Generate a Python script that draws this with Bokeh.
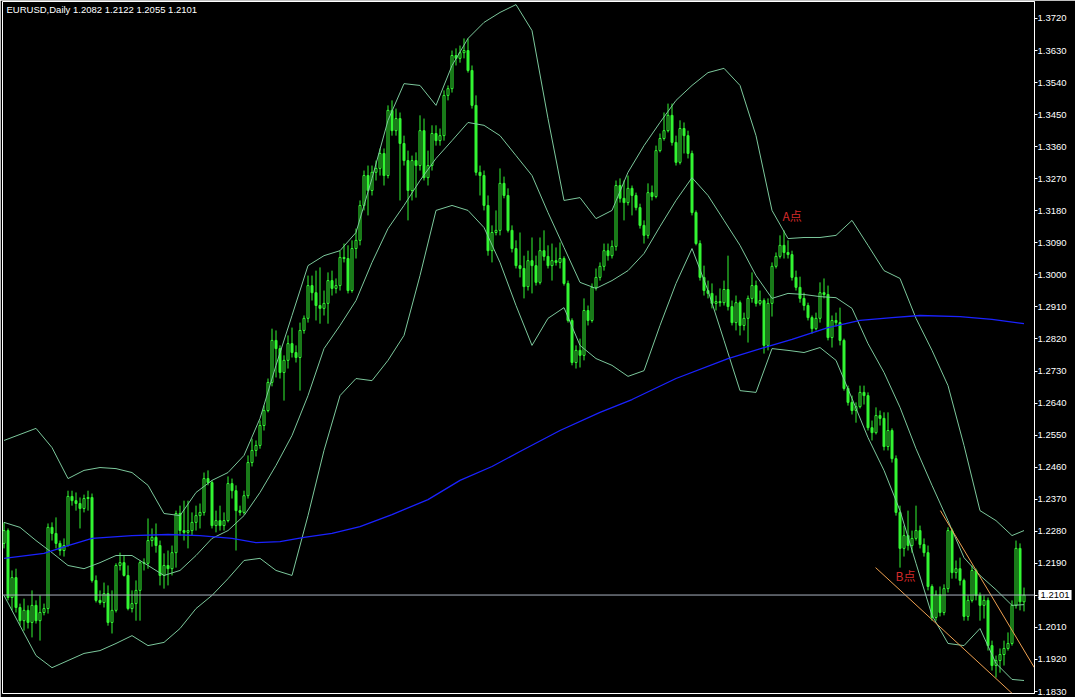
from bokeh.plotting import figure
from bokeh.models import (Range1d, FixedTicker, NumeralTickFormatter, Label, Span,
                          ColumnDataSource, LinearAxis)
from bokeh.embed import file_html
from bokeh.resources import INLINE

SYMBOL = "EURUSD"
PERIOD = "Daily"
PIP = 0.0001

# Daily EURUSD candles, prices in pips (1.2101 -> 12101)
opens = [
    12246, 12282, 12094, 12150, 12066, 12029, 12058, 12024, 12072, 12029,
    12052, 12063, 12291, 12274, 12246, 12226, 12240, 12378, 12366, 12358,
    12344, 12372, 12375, 12142, 12086, 12080, 12105, 12024, 12058, 12184,
    12192, 12156, 12063, 12077, 12114, 12192, 12190, 12254, 12263, 12240,
    12156, 12184, 12175, 12220, 12330, 12282, 12277, 12282, 12305, 12324,
    12333, 12428, 12417, 12296, 12310, 12296, 12310, 12414, 12394, 12338,
    12333, 12380, 12473, 12507, 12521, 12577, 12619, 12698, 12816, 12793,
    12726, 12760, 12807, 12782, 12768, 12844, 12878, 12970, 12950, 12914,
    12906, 12920, 12984, 12962, 12970, 13049, 13046, 12956, 13074, 13097,
    13195, 13279, 13237, 13288, 13299, 13341, 13279, 13462, 13405, 13439,
    13369, 13321, 13237, 13321, 13307, 13405, 13273, 13307, 13397, 13377,
    13391, 13504, 13523, 13616, 13608, 13624, 13630, 13574, 13476, 13288,
    13279, 13195, 13068, 13119, 13125, 13257, 13223, 13125, 13074, 13026,
    13018, 12967, 13040, 13026, 12979, 13068, 13052, 13026, 13040, 13035,
    13046, 12976, 12872, 12754, 12788, 12774, 12900, 12872, 12965, 12993,
    13024, 13068, 13054, 13080, 13251, 13215, 13203, 13243, 13223, 13189,
    13139, 13111, 13231, 13220, 13349, 13383, 13405, 13448, 13372, 13316,
    13411, 13391, 13341, 13175, 13088, 12993, 12956, 12948, 12920, 12925,
    12922, 12959, 12911, 12866, 12922, 12858, 12878, 12934, 12970, 12920,
    12928, 12802, 12920, 13024, 13052, 13083, 13063, 13057, 12993, 12965,
    12934, 12914, 12880, 12849, 12878, 12950, 12945, 12824, 12872, 12866,
    12816, 12681, 12642, 12619, 12630, 12670, 12661, 12571, 12557, 12605,
    12597, 12518, 12563, 12484, 12333, 12232, 12268, 12240, 12260, 12282,
    12243, 12220, 12125, 12038, 12102, 12052, 12119, 12282, 12164, 12175,
    12142, 12041, 12086, 12170, 12100, 12072, 12086, 11959, 11903, 11917,
    11934, 11951, 11965, 12072, 12232, 12082,
]
highs = [
    12305, 12288, 12170, 12175, 12077, 12091, 12072, 12114, 12086, 12100,
    12077, 12302, 12305, 12319, 12254, 12260, 12394, 12394, 12389, 12375,
    12383, 12394, 12386, 12156, 12114, 12136, 12128, 12114, 12190, 12220,
    12212, 12184, 12114, 12142, 12198, 12204, 12316, 12288, 12302, 12254,
    12218, 12226, 12240, 12338, 12352, 12366, 12366, 12333, 12352, 12358,
    12445, 12451, 12423, 12338, 12352, 12333, 12434, 12428, 12409, 12352,
    12394, 12493, 12540, 12535, 12591, 12633, 12709, 12849, 12844, 12802,
    12774, 12830, 12852, 12802, 12866, 12886, 12998, 12998, 13012, 13021,
    12956, 13007, 13012, 12990, 13068, 13088, 13083, 13097, 13130, 13209,
    13293, 13307, 13307, 13321, 13355, 13355, 13476, 13490, 13467, 13456,
    13391, 13349, 13335, 13344, 13448, 13439, 13349, 13420, 13420, 13411,
    13518, 13532, 13630, 13636, 13644, 13664, 13664, 13588, 13504, 13307,
    13293, 13223, 13139, 13181, 13299, 13276, 13243, 13139, 13097, 13119,
    13054, 13068, 13105, 13054, 13105, 13125, 13083, 13088, 13077, 13091,
    13052, 12984, 12878, 12802, 12821, 12934, 12914, 12976, 13018, 13035,
    13088, 13088, 13097, 13265, 13271, 13265, 13279, 13251, 13231, 13200,
    13153, 13257, 13251, 13363, 13397, 13456, 13481, 13481, 13391, 13434,
    13428, 13405, 13349, 13181, 13097, 13026, 12984, 12976, 12942, 12962,
    12984, 13054, 12928, 12942, 12928, 12894, 12942, 13007, 12984, 12956,
    12934, 12934, 13035, 13063, 13111, 13125, 13097, 13068, 13012, 12995,
    12950, 12922, 12886, 12894, 12979, 12990, 12970, 12886, 12894, 12908,
    12821, 12689, 12661, 12642, 12689, 12689, 12670, 12591, 12628, 12619,
    12614, 12614, 12569, 12493, 12352, 12296, 12338, 12282, 12352, 12296,
    12260, 12240, 12131, 12114, 12125, 12131, 12291, 12288, 12198, 12206,
    12147, 12100, 12184, 12175, 12108, 12100, 12094, 11973, 11931, 11951,
    11973, 11996, 12086, 12254, 12246, 12122,
]
lows = [
    12232, 12086, 12058, 12052, 12015, 12001, 12007, 11982, 12021, 11973,
    12044, 12049, 12254, 12232, 12212, 12209, 12237, 12352, 12338, 12288,
    12333, 12338, 12136, 12080, 12074, 12066, 12015, 11993, 12052, 12170,
    12153, 12058, 12052, 12029, 12029, 12170, 12175, 12237, 12220, 12128,
    12119, 12128, 12156, 12178, 12268, 12254, 12232, 12268, 12282, 12288,
    12324, 12409, 12288, 12277, 12282, 12282, 12305, 12372, 12226, 12324,
    12327, 12372, 12462, 12490, 12512, 12563, 12614, 12687, 12712, 12709,
    12647, 12737, 12768, 12754, 12675, 12835, 12866, 12928, 12872, 12863,
    12886, 12863, 12942, 12948, 12956, 13035, 12948, 12950, 13046, 13083,
    13181, 13167, 13223, 13265, 13279, 13251, 13271, 13391, 13391, 13209,
    13307, 13153, 13209, 13217, 13293, 13265, 13251, 13293, 13363, 13363,
    13377, 13490, 13512, 13588, 13596, 13608, 13568, 13467, 13279, 13223,
    13181, 13054, 13035, 13111, 13111, 13215, 13119, 13063, 13018, 12993,
    12934, 12956, 12948, 12970, 12973, 13040, 13018, 12984, 13026, 13018,
    12970, 12866, 12746, 12737, 12740, 12760, 12858, 12866, 12956, 12984,
    13012, 13040, 13046, 13068, 13203, 13153, 13195, 13167, 13181, 13130,
    13088, 13102, 13209, 13215, 13344, 13377, 13400, 13363, 13307, 13310,
    13341, 13327, 13167, 13083, 12984, 12942, 12934, 12906, 12900, 12911,
    12914, 12900, 12858, 12844, 12830, 12844, 12810, 12922, 12911, 12914,
    12779, 12788, 12883, 13018, 13046, 13046, 13046, 12984, 12956, 12922,
    12900, 12872, 12835, 12844, 12866, 12934, 12816, 12796, 12855, 12802,
    12675, 12633, 12608, 12585, 12625, 12636, 12563, 12535, 12552, 12577,
    12507, 12507, 12473, 12324, 12178, 12209, 12226, 12220, 12254, 12232,
    12209, 12114, 12029, 12029, 12041, 12044, 12108, 12147, 12147, 12128,
    12029, 12029, 12080, 12086, 12029, 12035, 11945, 11889, 11869, 11883,
    11903, 11945, 11959, 12063, 12058, 12055,
]
closes = [
    12282, 12094, 12150, 12066, 12029, 12058, 12024, 12072, 12029, 12052,
    12063, 12291, 12274, 12246, 12226, 12240, 12378, 12366, 12358, 12344,
    12372, 12375, 12142, 12086, 12080, 12105, 12024, 12058, 12184, 12192,
    12156, 12063, 12077, 12114, 12192, 12190, 12254, 12263, 12240, 12156,
    12184, 12175, 12220, 12330, 12282, 12277, 12282, 12305, 12324, 12333,
    12428, 12417, 12296, 12310, 12296, 12310, 12414, 12394, 12338, 12333,
    12380, 12473, 12507, 12521, 12577, 12619, 12698, 12816, 12793, 12726,
    12760, 12807, 12782, 12768, 12844, 12878, 12970, 12950, 12914, 12906,
    12920, 12984, 12962, 12970, 13049, 13046, 12956, 13074, 13097, 13195,
    13279, 13237, 13288, 13299, 13341, 13279, 13462, 13405, 13439, 13369,
    13321, 13237, 13321, 13307, 13405, 13273, 13307, 13397, 13377, 13391,
    13504, 13523, 13616, 13608, 13624, 13630, 13574, 13476, 13288, 13279,
    13195, 13068, 13119, 13125, 13257, 13223, 13125, 13074, 13026, 13018,
    12967, 13040, 13026, 12979, 13068, 13052, 13026, 13040, 13035, 13046,
    12976, 12872, 12754, 12788, 12774, 12900, 12872, 12965, 12993, 13024,
    13068, 13054, 13080, 13251, 13215, 13203, 13243, 13223, 13189, 13139,
    13111, 13231, 13220, 13349, 13383, 13405, 13448, 13372, 13316, 13411,
    13391, 13341, 13175, 13088, 12993, 12956, 12948, 12920, 12925, 12922,
    12959, 12911, 12866, 12922, 12858, 12878, 12934, 12970, 12920, 12928,
    12802, 12920, 13024, 13052, 13083, 13063, 13057, 12993, 12965, 12934,
    12914, 12880, 12849, 12878, 12950, 12945, 12824, 12872, 12866, 12816,
    12681, 12642, 12619, 12630, 12670, 12661, 12571, 12557, 12605, 12597,
    12518, 12563, 12484, 12333, 12232, 12268, 12240, 12260, 12282, 12243,
    12220, 12125, 12038, 12102, 12052, 12119, 12282, 12164, 12175, 12142,
    12041, 12086, 12170, 12100, 12072, 12086, 11959, 11903, 11917, 11934,
    11951, 11965, 12072, 12232, 12082, 12101,
]

# Bollinger Bands (20, 2), sampled every 4th bar
band_idx = list(range(0, 256, 4)) + [255]
bb_upper = [
    12535, 12552, 12569, 12515, 12428, 12451, 12459, 12456, 12445, 12409,
    12330, 12324, 12389, 12423, 12445, 12493, 12597, 12746, 12886, 13026,
    13054, 13068, 13119, 13271, 13434, 13537, 13532, 13476, 13588, 13664,
    13709, 13737, 13759, 13686, 13439, 13209, 13217, 13158, 13181, 13288,
    13363, 13428, 13490, 13532, 13568, 13580, 13532, 13391, 13181, 13102,
    13105, 13105, 13111, 13153, 13083, 13012, 12990, 12878, 12788, 12689,
    12521, 12338, 12310, 12268, 12282,
]
bb_middle = [
    12305, 12291, 12254, 12220, 12184, 12175, 12192, 12212, 12212, 12184,
    12156, 12170, 12212, 12260, 12282, 12324, 12389, 12465, 12549, 12661,
    12793, 12858, 12928, 13035, 13130, 13195, 13265, 13327, 13377, 13428,
    13420, 13391, 13335, 13279, 13175, 13077, 12979, 12962, 12984, 13012,
    13060, 13136, 13209, 13273, 13223, 13153, 13083, 12998, 12934, 12948,
    12945, 12939, 12936, 12906, 12807, 12726, 12628, 12512, 12409, 12310,
    12206, 12156, 12116, 12072, 12074,
]
bb_lower = [
    12100, 12015, 11931, 11897, 11917, 11937, 11945, 11965, 11987, 11959,
    11968, 12007, 12063, 12100, 12147, 12198, 12204, 12170, 12156, 12324,
    12507, 12661, 12709, 12703, 12760, 12830, 12998, 13181, 13195, 13181,
    13133, 13035, 12914, 12802, 12878, 12908, 12802, 12765, 12746, 12715,
    12731, 12858, 12976, 13074, 12956, 12816, 12675, 12670, 12793, 12788,
    12782, 12796, 12760, 12653, 12543, 12451, 12338, 12190, 12044, 11965,
    11959, 12007, 11909, 11864, 11861,
]

# long moving average
ma_idx = [0, 10, 16, 22, 32, 41, 49, 57, 63, 69, 75, 82, 89, 97, 106, 114,
          122, 129, 139, 149, 157, 168, 181, 190, 197, 206, 214, 222, 229,
          239, 247, 255]
ma_val = [12204, 12218, 12240, 12260, 12268, 12271, 12268, 12260, 12248,
          12251, 12263, 12274, 12293, 12327, 12369, 12423, 12462, 12504,
          12563, 12614, 12650, 12709, 12765, 12796, 12819, 12852, 12872,
          12880, 12886, 12883, 12875, 12863]

# hand-drawn trend channel: (bar, price in pips) end points
trend_upper = [(234.1, 12338), (257.6, 11897)]
trend_lower = [(217.9, 12178), (252.1, 11824)]

# chart notes: (text, bar, price in pips)
notes = [("A点", 194.6, 13167), ("B点", 222.9, 12156)]

y_ticks = [1.1830, 1.1920, 1.2010, 1.2100, 1.2190, 1.2280, 1.2370, 1.2460,
           1.2550, 1.2640, 1.2730, 1.2820, 1.2910, 1.3000, 1.3090, 1.3180,
           1.3270, 1.3360, 1.3450, 1.3540, 1.3630, 1.3720]

n = len(closes)

LIME = "#33f533"
BAND = "#7cc89c"
BLUE = "#1a22ff"
ORANGE = "#eea050"
NOTE_RED = "#d42a2a"
BID_GREY = "#a9b3bf"
FONT = "Liberation Sans"
SCALE_FONT_SIZE = "9.5px"

o = [v * PIP for v in opens]
h = [v * PIP for v in highs]
l = [v * PIP for v in lows]
c = [v * PIP for v in closes]
bars = list(range(n))
src = ColumnDataSource(dict(
    x=bars, high=h, low=l,
    top=[max(a, b) for a, b in zip(o, c)],
    bottom=[min(a, b) for a, b in zip(o, c)],
    fill=["#000000" if cc > oo else LIME for oo, cc in zip(o, c)],
))

# 4 px per bar; frame spans canvas x 2..1034, y 1..693
BAR_PX = 4
FRAME_W = 1032
x_start = -0.375
x_end = x_start + FRAME_W / BAR_PX
y_bottom, y_top = 1.18245, 1.37677

p = figure(
    width=1075, height=697, title=None,
    x_range=Range1d(x_start, x_end), y_range=Range1d(y_bottom, y_top),
    output_backend="svg", toolbar_location=None,
    x_axis_location=None, y_axis_location=None,
    min_border_left=2, min_border_right=41, min_border_top=1, min_border_bottom=4,
    background_fill_color="black", border_fill_color="black",
    outline_line_color="white", outline_line_width=1,
)
p.grid.visible = False

bid = c[-1]

# price scale, built from three stacked pieces on the right:
# tick marks next to the frame, the bid price tag, then the tick labels
tick_axis = LinearAxis(
    ticker=FixedTicker(ticks=y_ticks),
    major_label_overrides={t: "" for t in y_ticks},
    axis_line_color="white", major_tick_line_color="white",
    major_tick_out=3, major_tick_in=0, minor_tick_line_color=None,
    major_label_standoff=0, major_label_text_font_size="1px",
)
p.add_layout(tick_axis, "right")

bid_tag = Label(x=x_end, y=bid, x_offset=4, text=f"{bid:.4f}",
                text_baseline="middle", text_align="left",
                text_color="black", text_font=FONT, text_font_size=SCALE_FONT_SIZE,
                background_fill_color="white", padding=2)
p.add_layout(bid_tag, "right")

price_axis = LinearAxis(
    ticker=FixedTicker(ticks=y_ticks),
    formatter=NumeralTickFormatter(format="0.0000"),
    major_label_overrides={1.21: f"{bid:.4f}"},
    axis_line_color=None, major_tick_line_color=None, minor_tick_line_color=None,
    major_tick_out=0, major_tick_in=0, major_label_standoff=-33,
    major_label_text_color="white", major_label_text_font=FONT,
    major_label_text_font_size=SCALE_FONT_SIZE,
)
p.add_layout(price_axis, "right")

# candles
p.segment(x0="x", y0="low", x1="x", y1="high", source=src, line_color=LIME, line_width=1)
p.vbar(x="x", width=0.5, top="top", bottom="bottom", source=src,
       fill_color="fill", line_color=LIME, line_width=1)

# Bollinger bands
for band in (bb_upper, bb_middle, bb_lower):
    p.line(band_idx, [v * PIP for v in band], line_color=BAND, line_width=1)

# moving average
p.line(ma_idx, [v * PIP for v in ma_val], line_color=BLUE, line_width=1.3)

# trend channel
for seg in (trend_upper, trend_lower):
    p.line([s[0] for s in seg], [s[1] * PIP for s in seg], line_color=ORANGE, line_width=1)

# bid line
p.add_layout(Span(location=bid, dimension="width", line_color=BID_GREY, line_width=1))

# notes
for txt, bx, py in notes:
    p.add_layout(Label(x=bx, y=py * PIP, text=txt, text_baseline="middle",
                       text_align="left", text_color=NOTE_RED,
                       text_font="Noto Sans CJK SC", text_font_size="12px"))

# header with the last bar's OHLC
px_price = (y_top - y_bottom) / 692
header = f"{SYMBOL},{PERIOD}  {o[-1]:.4f} {h[-1]:.4f} {l[-1]:.4f} {c[-1]:.4f}"
p.add_layout(Label(x=x_start, y=y_top - 8 * px_price, x_offset=4, text=header,
                   text_baseline="middle", text_align="left", text_color="white",
                   text_font=FONT, text_font_size=SCALE_FONT_SIZE))

open("out.html", "w").write(file_html(p, INLINE))
